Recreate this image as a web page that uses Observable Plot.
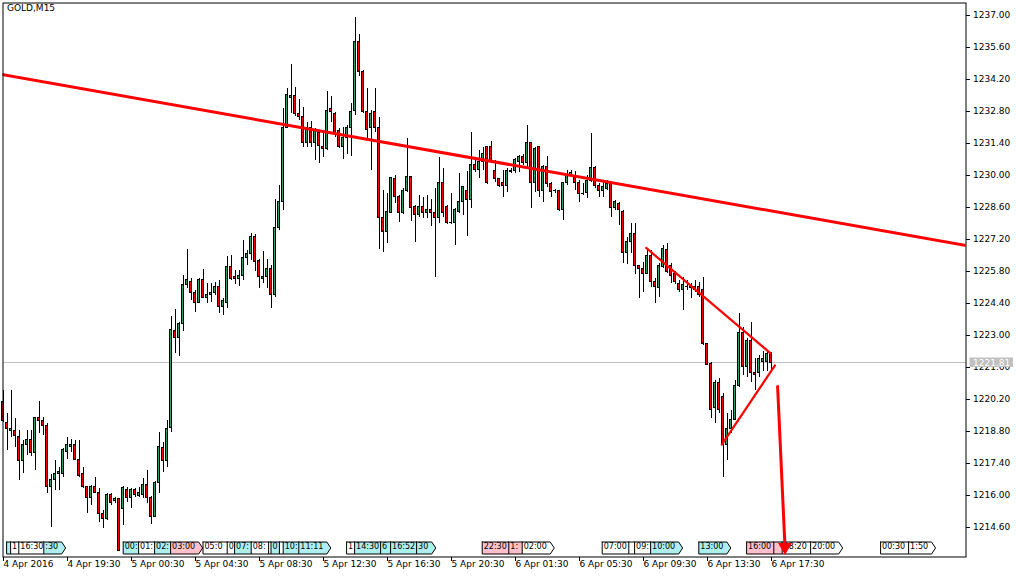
<!DOCTYPE html>
<html><head><meta charset="utf-8">
<script src="https://cdn.jsdelivr.net/npm/d3@7"></script>
<script src="https://cdn.jsdelivr.net/npm/@observablehq/plot@0.6"></script>
<style>html,body{margin:0;padding:0;background:#fff;}svg{display:block}</style>
</head><body><div id="chart"></div>
<script>
// ---- data (GOLD, M15 candles, bar index 0..192) ----
const opens = [1220.07,1219.19,1218.84,1218.84,1218.54,1217.53,1218.23,1218.41,1217.84,1219.41,1219.28,1219.06,1216.39,1216.66,1216.96,1216.96,1217.92,1218.14,1218.23,1217.57,
1216.92,1216.35,1215.91,1216.35,1216.13,1215.17,1214.99,1216.00,1215.74,1215.83,1215.43,1216.26,1215.87,1216.22,1215.96,1216.00,1216.44,1215.91,1215.08,1216.53,
1218.06,1217.53,1218.97,1223.18,1222.91,1223.52,1225.19,1225.36,1224.84,1224.44,1225.41,1224.66,1224.79,1224.88,1225.10,1224.23,1224.44,1225.98,1225.54,1225.49,
1225.62,1226.37,1226.55,1227.33,1226.24,1225.45,1225.58,1225.89,1224.79,1227.72,1228.82,1232.10,1233.41,1233.46,1232.67,1232.58,1231.44,1232.10,1231.44,1231.88,
1231.23,1231.18,1232.89,1232.71,1231.93,1231.23,1231.62,1232.10,1232.84,1235.86,1234.55,1232.80,1232.06,1232.76,1232.10,1228.12,1227.51,1228.38,1229.83,1229.04,
1228.38,1229.30,1229.92,1228.60,1228.25,1228.64,1228.34,1228.51,1228.38,1228.12,1229.69,1228.60,1227.90,1227.90,1228.42,1228.82,1229.30,1228.91,1230.44,1230.22,
1230.57,1231.23,1231.23,1230.18,1229.83,1229.69,1229.56,1230.16,1230.18,1230.57,1230.79,1230.53,1231.40,1229.65,1231.23,1229.30,1230.36,1229.61,1229.30,1229.30,
1228.51,1229.65,1229.96,1229.92,1229.69,1229.17,1229.22,1229.78,1230.31,1229.56,1229.34,1229.43,1229.61,1228.56,1228.77,1228.42,1226.63,1227.07,1227.42,1226.02,
1225.93,1225.71,1226.46,1225.36,1225.06,1225.98,1226.72,1226.02,1225.67,1225.27,1224.97,1225.12,1225.14,1225.14,1225.10,1224.97,1222.61,1221.77,1219.81,1220.94,
1220.33,1218.19,1218.89,1219.32,1220.81,1223.09,1221.64,1222.74,1221.34,1221.34,1221.86,1221.86,1222.21];
const highs = [1220.59,1219.59,1220.59,1219.37,1218.84,1218.41,1218.84,1218.84,1219.41,1220.11,1219.41,1219.15,1216.92,1217.53,1217.22,1218.06,1218.54,1218.45,1218.41,1218.41,
1217.22,1216.39,1216.44,1216.79,1216.31,1215.34,1216.09,1216.09,1215.91,1215.87,1216.39,1216.35,1216.31,1216.31,1216.35,1216.74,1217.09,1215.95,1216.61,1218.76,
1218.32,1219.28,1223.84,1224.14,1223.57,1225.62,1226.77,1225.49,1224.97,1225.49,1225.89,1225.27,1225.27,1225.32,1225.41,1224.62,1226.46,1226.50,1225.84,1225.84,
1227.16,1226.72,1227.46,1227.42,1226.33,1226.68,1226.33,1226.06,1228.95,1229.56,1232.93,1233.81,1234.86,1233.85,1233.33,1232.97,1232.32,1232.36,1232.06,1231.92,
1231.88,1233.67,1233.46,1232.75,1232.06,1232.10,1232.19,1233.15,1236.91,1236.17,1234.59,1233.81,1232.84,1233.81,1232.54,1229.34,1229.22,1229.92,1230.00,1229.13,
1229.43,1231.62,1229.96,1228.69,1229.13,1229.04,1229.13,1228.95,1229.43,1230.79,1230.31,1228.69,1229.22,1228.56,1230.09,1229.52,1230.18,1231.88,1230.66,1231.09,
1231.23,1231.27,1231.49,1230.66,1229.87,1230.22,1230.31,1230.31,1230.74,1230.87,1230.92,1232.19,1231.44,1231.22,1231.27,1230.44,1230.83,1229.69,1229.39,1229.34,
1229.69,1230.22,1230.22,1230.18,1229.78,1229.65,1230.00,1231.84,1230.40,1229.65,1229.69,1229.78,1229.65,1228.91,1228.82,1228.47,1227.29,1227.90,1227.90,1226.06,
1226.20,1226.72,1226.72,1225.49,1226.15,1226.94,1227.03,1226.15,1225.80,1225.41,1225.54,1225.41,1225.27,1225.41,1225.32,1225.54,1222.65,1221.82,1221.03,1221.12,
1220.46,1219.59,1219.72,1221.03,1223.96,1223.35,1222.87,1223.57,1221.99,1222.12,1222.30,1222.34,1222.26];
const lows = [1219.19,1217.97,1218.54,1218.10,1216.66,1216.96,1217.75,1217.71,1217.09,1218.71,1218.62,1216.09,1214.60,1216.22,1216.22,1216.79,1217.57,1217.88,1217.53,1216.79,
1216.31,1215.21,1215.56,1216.09,1214.82,1214.56,1214.91,1215.56,1215.65,1213.55,1214.69,1215.69,1215.43,1215.91,1215.91,1215.87,1215.65,1214.73,1215.04,1216.09,
1217.01,1217.22,1218.76,1222.21,1222.08,1223.18,1225.06,1224.53,1224.01,1224.40,1224.62,1224.40,1224.44,1224.75,1223.96,1223.88,1224.18,1225.41,1225.23,1225.14,
1225.41,1226.06,1226.28,1225.80,1225.06,1225.27,1225.06,1224.18,1224.66,1227.59,1228.47,1232.06,1232.71,1232.58,1232.41,1231.23,1231.23,1231.23,1230.66,1230.53,
1230.79,1231.09,1232.32,1231.66,1231.18,1230.70,1230.92,1230.83,1232.62,1234.33,1232.71,1231.53,1230.22,1231.88,1226.77,1226.63,1227.03,1228.34,1228.77,1227.94,
1228.29,1229.26,1227.99,1227.07,1228.16,1228.12,1228.12,1227.77,1225.54,1227.90,1228.16,1227.86,1227.86,1226.94,1228.34,1228.25,1227.33,1228.56,1230.13,1229.87,
1230.22,1229.61,1230.53,1229.69,1229.48,1229.04,1229.26,1230.09,1230.09,1230.13,1230.44,1230.31,1228.56,1229.26,1229.04,1228.82,1229.48,1229.04,1229.22,1228.42,
1228.03,1229.57,1229.90,1229.34,1228.82,1229.13,1229.00,1229.69,1229.43,1229.04,1229.04,1229.34,1228.16,1228.47,1227.81,1226.15,1226.11,1226.59,1225.67,1224.62,
1224.88,1225.67,1225.10,1224.40,1224.66,1225.93,1225.71,1225.27,1225.23,1224.88,1224.09,1224.97,1224.62,1224.88,1224.66,1222.56,1221.69,1219.37,1219.15,1219.59,
1216.79,1217.53,1218.71,1219.28,1220.72,1221.25,1221.16,1220.94,1220.59,1221.16,1221.42,1221.42,1221.47];
const closes = [1219.24,1218.89,1218.89,1218.62,1217.53,1218.23,1218.41,1217.84,1219.41,1219.24,1219.02,1216.35,1216.66,1216.92,1217.01,1217.97,1218.23,1218.23,1217.57,1216.87,
1216.35,1215.87,1216.35,1216.13,1215.21,1214.99,1216.04,1215.69,1215.83,1213.59,1216.31,1215.91,1216.22,1216.00,1216.09,1216.48,1215.91,1215.08,1216.53,1218.10,
1217.53,1218.93,1223.26,1222.91,1223.52,1225.19,1225.41,1224.84,1224.44,1225.41,1224.66,1224.79,1224.88,1225.10,1224.23,1224.49,1225.98,1225.49,1225.45,1225.62,
1226.37,1226.55,1227.33,1226.20,1225.54,1225.58,1225.93,1224.79,1227.72,1228.86,1232.10,1233.54,1233.46,1232.67,1232.54,1231.44,1232.06,1231.40,1231.93,1231.27,
1231.18,1232.84,1232.76,1231.88,1231.23,1231.62,1232.10,1232.80,1235.86,1234.51,1232.76,1232.01,1232.71,1232.10,1228.16,1227.51,1228.42,1229.87,1229.04,1228.38,
1229.30,1229.92,1228.56,1228.25,1228.64,1228.34,1228.51,1228.34,1228.12,1229.69,1228.34,1227.90,1227.94,1228.47,1228.86,1229.48,1228.91,1230.44,1230.22,1230.57,
1230.92,1229.65,1230.57,1229.83,1229.56,1229.56,1230.18,1230.18,1230.66,1230.79,1230.53,1231.44,1229.65,1231.18,1229.30,1230.36,1229.61,1229.26,1229.34,1228.51,
1229.65,1229.96,1230.09,1229.65,1229.17,1229.19,1229.78,1230.31,1229.56,1229.30,1229.48,1229.61,1228.56,1228.82,1228.47,1226.63,1227.07,1227.42,1226.02,1225.89,
1225.71,1226.46,1225.32,1225.10,1226.06,1226.77,1225.76,1225.62,1225.32,1224.97,1225.19,1225.14,1225.06,1224.97,1224.75,1222.61,1221.73,1219.76,1220.90,1219.76,
1218.19,1218.89,1219.32,1220.77,1223.09,1221.64,1222.74,1221.34,1221.29,1221.95,1221.95,1222.21,1221.81];

const timeTickBars = [0,16,32,48,64,80,96,112,128,144,160,176,192];
const timeLabels = ["4 Apr 2016","4 Apr 19:30","5 Apr 00:30","5 Apr 04:30","5 Apr 08:30","5 Apr 12:30","5 Apr 16:30","5 Apr 20:30","6 Apr 01:30","6 Apr 05:30","6 Apr 09:30","6 Apr 13:30","6 Apr 17:30"];
const priceTicks = [1214.6,1216.0,1217.4,1218.8,1220.2,1221.6,1223.0,1224.4,1225.8,1227.2,1228.6,1230.0,1231.4,1232.8,1234.2,1235.6,1237.0];
const symbolTitle = "GOLD,M15";

// trend lines (bar index, price)
const trendBars = [-1, 241];          const trendPrices = [1234.44, 1226.93];
const upperBars = [160.8, 191.9];     const upperPrices = [1226.83, 1222.22];
const lowerBars = [179.7, 193.0];     const lowerPrices = [1218.23, 1221.69];
const arrowBars = [193.65, 195.5];    const arrowPrices = [1220.77, 1213.75];

// calendar event flags (bar index of event, visible label, kind)
const flagBars  = [0.9,1.9,3.95,10.2,30.05,33.9,37.9,41.9,50.0,56.05,57.9,62.05,66.4,67.0,69.1,70.05,73.95,
                   85.9,87.9,94.4,96.9,103.4,119.8,126.45,129.8,149.8,156.45,157.9,161.9,173.95,185.9,192.7,194.8,201.9,219.4,226.4];
const flagTexts = ["","1","16:30",":30","00:","01:","02:","03:00","05:0","0","07:","08:","","0","","10:","11:11",
                   "1","14:30","6","16:52","30","22:30","1:","02:00","07:00","","09:","10:00","13:00","16:00","","18:20","20:00","00:30","1:50"];
const flagKinds = ["c","w","w","c","c","w","c","p","w","w","c","w","w","c","w","c","c",
                   "w","c","c","c","c","p","p","w","w","w","w","c","c","p","p","w","w","w","w"];

// ---- build ----
const candles = opens.map((o, i) => ({i, o, h: highs[i], l: lows[i], c: closes[i]}));
const lastClose = closes[closes.length - 1];
const GREEN = "#30a060", RED = "#ff0000";
const kindColor = {c: "#afeeee", p: "#ffc0cb", w: "#ffffff"};

const W = 1017, H = 578, mL = 2.5, mR = 51.5, mT = 2.5, mB = 21.5;
const barPx = 4;
const frameW = W - mL - mR, frameH = H - mT - mB;
const yDomain = [1213.309, 1237.547];
const pxPerPrice = frameH / (yDomain[1] - yDomain[0]);
const priceAtRow = px => yDomain[1] - (px - mT) / pxPerPrice;

const charW = ch => /[0-9]/.test(ch) ? 5.09 : ch === ":" ? 2.7 : 5;
const textW = s => [...s].reduce((a, ch) => a + charW(ch), 0);
const flags = flagBars.map((b, i) => ({b, text: flagTexts[i], col: kindColor[flagKinds[i]]}));
flags.forEach((f, i) => {
  const next = flags[i + 1];
  const natural = f.b + (textW(f.text) + 5) / barPx;
  f.e = next && (next.b - f.b) * barPx < 30 ? next.b : Math.max(natural, f.b + 1);
});
const fTop = priceAtRow(541.5), fMid = priceAtRow(547.5), fBot = priceAtRow(553.5);
const flagPts = flags.flatMap((f, i) => [
  {id: i, x: f.b, y: fTop, col: f.col}, {id: i, x: f.e, y: fTop, col: f.col},
  {id: i, x: f.e + 1, y: fMid, col: f.col}, {id: i, x: f.e, y: fBot, col: f.col},
  {id: i, x: f.b, y: fBot, col: f.col}, {id: i, x: f.b, y: fTop, col: f.col}]);

const pts = (bs, ps) => bs.map((b, i) => ({x: b, y: ps[i]}));

const chart = Plot.plot({
  width: W, height: H,
  marginLeft: mL, marginRight: mR, marginTop: mT, marginBottom: mB,
  x: {domain: [0, frameW / barPx], axis: null},
  y: {domain: yDomain, axis: null},
  color: {type: "identity"},
  style: {fontFamily: "DejaVu Sans", fontSize: "9px", color: "#000", background: "#fff", overflow: "visible"},
  marks: [
    Plot.ruleY([lastClose], {stroke: "#c0c0c0", shapeRendering: "crispEdges"}),
    Plot.ruleX(candles, {x: "i", y1: "l", y2: "h", stroke: "#000", shapeRendering: "crispEdges"}),
    Plot.rect(candles, {x1: d => d.i - 0.25, x2: d => d.i + 0.25, y1: "o", y2: "c",
      fill: d => d.c >= d.o ? GREEN : RED, stroke: "#000", strokeWidth: 1, shapeRendering: "crispEdges"}),
    Plot.line(pts(trendBars, trendPrices), {x: "x", y: "y", stroke: RED, strokeWidth: 3, clip: true}),
    Plot.line(pts(upperBars, upperPrices), {x: "x", y: "y", stroke: RED, strokeWidth: 2.2}),
    Plot.line(pts(lowerBars, lowerPrices), {x: "x", y: "y", stroke: RED, strokeWidth: 2.2}),
    // event flags
    Plot.line(flagPts, {x: "x", y: "y", z: "id", fill: "col", stroke: "#000", strokeWidth: 1, strokeLinejoin: "miter"}),
    Plot.text(flags, {x: "b", text: "text", frameAnchor: "bottom", dy: -8.5, dx: 1.5, textAnchor: "start", fontSize: 8, fill: "#000"}),
    // projected move arrow (drawn over the flags)
    Plot.line(pts(arrowBars, arrowPrices), {x: "x", y: "y", stroke: RED, strokeWidth: 3}),
    Plot.dot([pts(arrowBars, arrowPrices)[1]], {x: "x", y: "y", symbol: "triangle", rotate: 180, r: 4.2, fill: RED, stroke: RED}),
    Plot.frame({stroke: "#000"}),
    // time axis
    Plot.ruleX(timeTickBars, {x: d => d, insetTop: frameH, insetBottom: -4, stroke: "#000", shapeRendering: "crispEdges"}),
    Plot.text(timeTickBars, {x: d => d, text: (d, i) => timeLabels[i], frameAnchor: "bottom", dy: 10, dx: 0.5, textAnchor: "start", fontSize: 9}),
    // price axis
    Plot.ruleY(priceTicks, {y: d => d, insetLeft: frameW, insetRight: -4.5, stroke: "#000", shapeRendering: "crispEdges"}),
    Plot.text(priceTicks, {y: d => d, text: d => d.toFixed(2), frameAnchor: "right", dx: 7, textAnchor: "start", fontSize: 9}),
    // last price label
    Plot.rect([lastClose], {y1: d => d + 0.205, y2: d => d - 0.21, insetLeft: frameW + 4, insetRight: -47.5, fill: "#c0c0c0"}),
    Plot.text([lastClose], {y: d => d, text: d => d.toFixed(2), frameAnchor: "right", dx: 7, textAnchor: "start", fontSize: 9, fill: "#fff"}),
    // title
    Plot.text([symbolTitle], {frameAnchor: "top-left", dx: 4, dy: 2, textAnchor: "start", lineAnchor: "top", fontSize: 9})
  ]
});
document.getElementById("chart").appendChild(chart);
</script>
</body></html>
